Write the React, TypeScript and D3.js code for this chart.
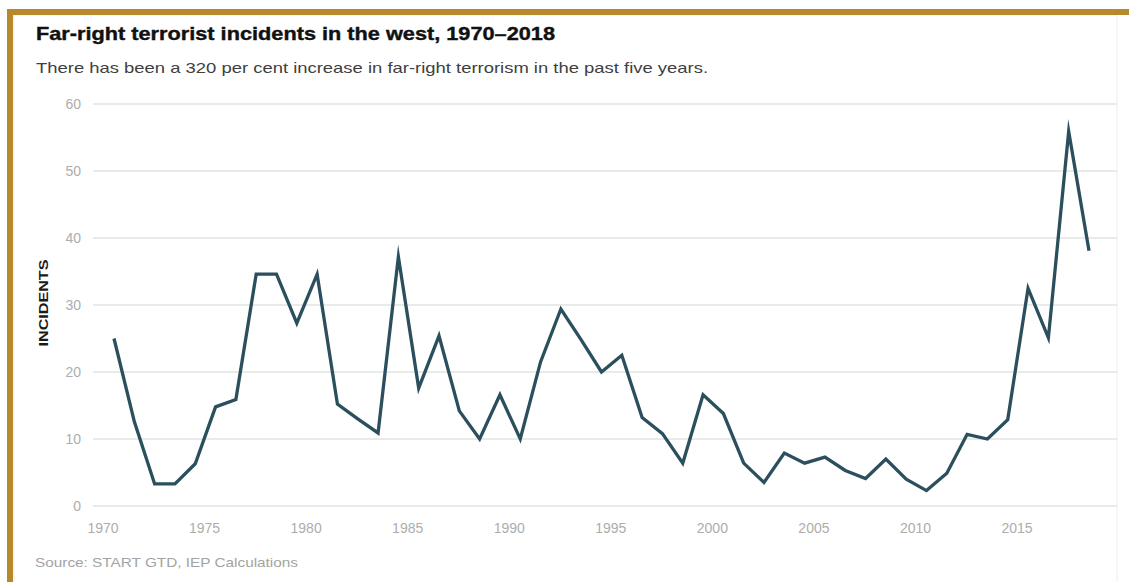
import React from "react";
import * as d3 from "d3";

// Annual far-right terrorist incidents in the west
const years: number[] = d3.range(1970, 2019);
const incidents: number[] = [
  25, 12.6, 3.3, 3.3, 6.3, 14.8, 15.9, 34.6, 34.6, 27.3,
  34.6, 15.2, 13, 10.9, 37.2, 17.6, 25.4, 14.2, 10, 16.6,
  10, 21.5, 29.4, 24.8, 20, 22.5, 13.2, 10.8, 6.4, 16.6,
  13.8, 6.4, 3.5, 7.9, 6.4, 7.3, 5.3, 4.1, 7.0, 4.0,
  2.3, 4.9, 10.7, 10, 12.9, 32.5, 25.1, 55.9, 38.1,
];
const yTicks: number[] = [0, 10, 20, 30, 40, 50, 60];
const xTicks: number[] = [1970, 1975, 1980, 1985, 1990, 1995, 2000, 2005, 2010, 2015];

const titleText = "Far-right terrorist incidents in the west, 1970–2018";
const subtitleText =
  "There has been a 320 per cent increase in far-right terrorism in the past five years.";
const sourceText = "Source: START GTD, IEP Calculations";
const yAxisLabel = "INCIDENTS";

const W = 1129;
const H = 582;
const FONT = "'Liberation Sans', Arial, sans-serif";

export default function App() {
  const x = d3.scaleLinear().domain([1970, 2018]).range([114, 1089]);
  const y = d3.scaleLinear().domain([0, 60]).range([506, 104]);

  const line = d3
    .line<number>()
    .x((_, i) => x(years[i]))
    .y((d) => y(d));

  const gold = "#b8892a";

  return (
    <svg
      width={W}
      height={H}
      style={{ position: "absolute", left: 0, top: 0, display: "block" }}
    >
      <rect x={0} y={0} width={W} height={H} fill="#ffffff" />
      {/* panel outline */}
      <rect x={14} y={15} width={1103} height={H} fill="#ffffff" stroke="#eceeee" strokeWidth={1} />
      {/* gold frame */}
      <rect x={7} y={9} width={W - 7} height={6} fill={gold} />
      <rect x={7} y={9} width={6} height={H - 9} fill={gold} />

      {/* title block */}
      <text
        x={36}
        y={40}
        fontFamily={FONT}
        fontWeight={700}
        fontSize={19}
        fill="#111111"
        stroke="#111111"
        strokeWidth={0.4}
        textLength={519}
        lengthAdjust="spacingAndGlyphs"
      >
        {titleText}
      </text>
      <text
        x={36}
        y={73}
        fontFamily={FONT}
        fontSize={15}
        fill="#404040"
        textLength={672}
        lengthAdjust="spacingAndGlyphs"
      >
        {subtitleText}
      </text>

      {/* gridlines and y tick labels */}
      {yTicks.map((t) => (
        <g key={t}>
          <line x1={93} x2={1117} y1={y(t)} y2={y(t)} stroke="#e2e4e5" strokeWidth={1.6} />
          <text
            x={81}
            y={y(t)}
            dy="0.35em"
            textAnchor="end"
            fontFamily={FONT}
            fontSize={14}
            fill="#adadad"
          >
            {t}
          </text>
        </g>
      ))}

      {/* x tick labels */}
      {xTicks.map((t) => (
        <text
          key={t}
          x={x(t) - 11}
          y={533}
          textAnchor="middle"
          fontFamily={FONT}
          fontSize={14}
          fill="#adadad"
        >
          {t}
        </text>
      ))}

      {/* y axis title */}
      <text
        transform="translate(48,303) rotate(-90)"
        textAnchor="middle"
        fontFamily={FONT}
        fontWeight={700}
        fontSize={12}
        fill="#1a1a1a"
        textLength={87}
        lengthAdjust="spacingAndGlyphs"
      >
        {yAxisLabel}
      </text>

      {/* incident series */}
      <path
        d={line(incidents) || ""}
        fill="none"
        stroke="#2b4f5c"
        strokeWidth={3.3}
        strokeLinejoin="miter"
        strokeMiterlimit={10}
      />

      <text
        x={35}
        y={567}
        fontFamily={FONT}
        fontSize={13}
        fill="#a3a3a3"
        textLength={263}
        lengthAdjust="spacingAndGlyphs"
      >
        {sourceText}
      </text>
    </svg>
  );
}
